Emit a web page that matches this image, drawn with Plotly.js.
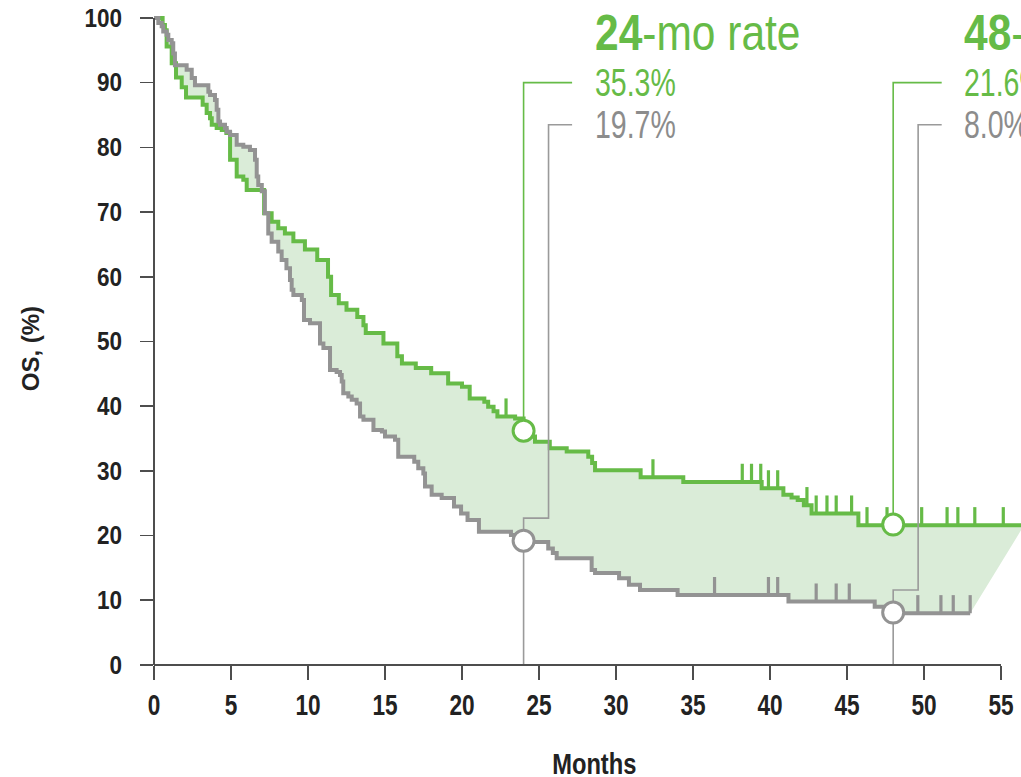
<!DOCTYPE html>
<html><head><meta charset="utf-8">
<script src="https://cdn.plot.ly/plotly-3.0.1.min.js"></script>
<style>html,body{margin:0;padding:0;background:#fff;} #chart{width:1021px;height:777px;}</style>
</head><body><div id="chart"></div>
<script>
// ---- data ----
const greenMonths = [0, 0.56, 0.71, 0.82, 1.15, 1.43, 1.80, 2.08, 3.16, 3.42, 3.64, 3.75, 4.07, 4.40, 4.70, 4.94, 5.37, 5.80, 6.02, 7.15, 7.64, 8.07, 8.50, 9.05, 9.80, 10.60, 11.30, 11.50, 12.00, 12.50, 13.20, 13.60, 13.75, 14.90, 15.80, 16.10, 17.00, 18.00, 19.10, 20.00, 20.50, 21.45, 21.70, 22.05, 22.30, 23.45, 24.00, 24.74, 25.70, 26.80, 28.20, 28.45, 28.64, 31.60, 34.37, 39.46, 40.87, 41.40, 41.80, 42.20, 42.70, 45.74, 56.50];
const greenOS = [100, 98.9, 98.1, 95.6, 93.0, 90.8, 89.3, 87.7, 86.6, 85.3, 84.5, 83.5, 83.0, 82.7, 82.2, 78.1, 75.5, 75.0, 73.4, 69.8, 68.5, 67.5, 66.7, 65.5, 64.2, 62.6, 60.0, 57.2, 55.9, 54.9, 53.8, 52.5, 51.3, 49.7, 47.7, 46.6, 45.9, 45.1, 43.5, 43.0, 41.2, 40.7, 39.9, 39.2, 38.4, 38.1, 35.3, 34.5, 33.5, 33.0, 32.2, 31.2, 30.1, 29.0, 28.3, 27.3, 26.3, 25.9, 25.5, 24.7, 23.4, 21.6, 21.6];

const greyMonths = [0, 0.28, 0.50, 0.60, 0.82, 0.93, 1.15, 1.25, 1.36, 2.12, 2.45, 2.66, 3.53, 3.64, 3.96, 4.07, 4.18, 4.29, 4.61, 4.72, 4.94, 5.37, 5.80, 6.23, 6.56, 6.67, 6.77, 7.00, 7.20, 7.42, 7.64, 8.07, 8.29, 8.60, 8.83, 8.94, 9.05, 9.60, 9.74, 10.13, 10.78, 11.00, 11.43, 11.86, 12.08, 12.19, 12.29, 12.62, 12.84, 13.16, 13.38, 13.60, 14.25, 14.80, 15.00, 15.65, 15.86, 16.90, 17.16, 17.49, 17.60, 18.03, 18.68, 19.48, 19.94, 20.36, 21.10, 23.18, 24.00, 25.60, 25.90, 26.15, 28.42, 28.64, 30.20, 30.84, 31.56, 34.00, 41.20, 46.80, 47.90, 53.00];
const greyOS = [100, 99.2, 98.7, 97.9, 97.4, 96.6, 96.1, 94.5, 92.7, 92.0, 90.7, 89.6, 88.6, 88.1, 87.3, 85.8, 84.0, 83.5, 83.0, 82.4, 81.9, 80.4, 80.1, 79.6, 78.1, 75.5, 74.2, 73.2, 69.8, 66.7, 65.4, 63.9, 62.6, 61.3, 59.5, 58.0, 57.2, 56.4, 53.3, 52.8, 49.7, 49.0, 45.6, 45.3, 44.8, 43.8, 42.0, 41.5, 41.0, 40.4, 38.4, 37.9, 36.3, 36.1, 35.3, 34.8, 32.2, 31.4, 30.4, 29.6, 27.6, 26.3, 25.8, 24.5, 23.4, 22.4, 20.6, 20.1, 19.0, 18.0, 17.3, 16.5, 14.7, 14.2, 13.4, 12.4, 11.6, 10.8, 9.8, 9.0, 8.0, 8.0];

const censorGreenMonths = [22.86, 32.4, 38.2, 38.8, 39.4, 39.9, 40.5, 42.4, 43.0, 43.7, 44.3, 45.3, 46.3, 47.6, 49.85, 51.5, 52.2, 53.3, 55.15];
const censorGreyMonths = [36.4, 39.9, 40.5, 43.0, 44.3, 45.15, 49.6, 51.1, 51.9, 53.0];

const rateMonths = [24, 48];
const markerGreenOS = [36.2, 21.7];
const markerGreyOS = [19.2, 8.1];
const rateGreenText = ["35.3%", "21.6%"];
const rateGreyText = ["19.7%", "8.0%"];

const xTicks = [0, 5, 10, 15, 20, 25, 30, 35, 40, 45, 50, 55];
const yTicks = [0, 10, 20, 30, 40, 50, 60, 70, 80, 90, 100];

// ---- styles ----
const GREEN = '#66bb47';
const GREY = '#939393';
const FILL = '#daecd8';
const AXIS = '#4d4d4d';
const INK = '#222222';
const SANS = '"Liberation Sans", Arial, sans-serif';
const CENSOR_H = 2.8;

function levelAt(ms, vs, t) {
  let v = vs[0];
  for (let i = 0; i < ms.length; i++) { if (ms[i] <= t + 1e-9) v = vs[i]; else break; }
  return v;
}

const traces = [];
traces.push({x: greenMonths, y: greenOS, mode: 'lines', line: {color: GREEN, width: 4, shape: 'hv'}, hoverinfo: 'skip', showlegend: false});
traces.push({x: greyMonths, y: greyOS, mode: 'lines', fill: 'tonexty', fillcolor: FILL, line: {color: GREY, width: 4, shape: 'hv'}, hoverinfo: 'skip', showlegend: false});

function censorTrace(ms, curveM, curveV, color) {
  return {
    x: ms, y: ms.map(t => levelAt(curveM, curveV, t)), mode: 'markers',
    marker: {size: 1, color: 'rgba(0,0,0,0)'},
    error_y: {type: 'data', symmetric: false, array: ms.map(() => CENSOR_H), arrayminus: ms.map(() => 0), color: color, thickness: 3.2, width: 0},
    hoverinfo: 'skip', showlegend: false
  };
}
traces.push(censorTrace(censorGreenMonths, greenMonths, greenOS, GREEN));
traces.push(censorTrace(censorGreyMonths, greyMonths, greyOS, GREY));

// leader lines (layout geometry)
const LBL_GREEN_Y = 90.0, LBL_GREY_Y = 83.5, TITLE_Y = 97.6;
const TEXT_DX = 4.5, LINE_END_DX = 3.15, JOG_DX = 1.62, JOG_DY = 3.5;
rateMonths.forEach((m, i) => {
  traces.push({x: [m, m, m + LINE_END_DX], y: [markerGreenOS[i], LBL_GREEN_Y, LBL_GREEN_Y], mode: 'lines', line: {color: GREEN, width: 1.6}, hoverinfo: 'skip', showlegend: false});
  const jy = markerGreyOS[i] + JOG_DY;
  traces.push({x: [m, m, m + JOG_DX, m + JOG_DX, m + LINE_END_DX], y: [0, jy, jy, LBL_GREY_Y, LBL_GREY_Y], mode: 'lines', line: {color: '#9a9a9a', width: 1.6}, hoverinfo: 'skip', showlegend: false});
});

// circles
const cx = [], cy = [], cc = [];
rateMonths.forEach((m, i) => { cx.push(m, m); cy.push(markerGreenOS[i], markerGreyOS[i]); cc.push(GREEN, GREY); });
traces.push({x: cx, y: cy, mode: 'markers', marker: {size: 21, color: '#ffffff', line: {color: cc, width: 3}}, hoverinfo: 'skip', showlegend: false, cliponaxis: false});

// annotations (+ horizontal condensing factor per text, to mimic the condensed typeface)
const annotations = [];
const condenseAnn = [];
rateMonths.forEach((m, i) => {
  annotations.push({x: m + TEXT_DX, y: TITLE_Y, xref: 'x', yref: 'y', xanchor: 'left', yanchor: 'middle', showarrow: false,
    text: '<b>' + m + '</b>-mo rate', font: {family: SANS, size: 50, color: GREEN}});
  condenseAnn.push(['left', 0.85]);
  annotations.push({x: m + TEXT_DX, y: LBL_GREEN_Y, xref: 'x', yref: 'y', xanchor: 'left', yanchor: 'middle', showarrow: false,
    text: rateGreenText[i], font: {family: SANS, size: 38, color: GREEN}});
  condenseAnn.push(['left', 0.75]);
  annotations.push({x: m + TEXT_DX, y: LBL_GREY_Y, xref: 'x', yref: 'y', xanchor: 'left', yanchor: 'middle', showarrow: false,
    text: rateGreyText[i], font: {family: SANS, size: 38, color: '#8c8c8c'}});
  condenseAnn.push(['left', 0.75]);
});
annotations.push({x: 28.6, y: -0.149, xref: 'x', yref: 'paper', xanchor: 'center', yanchor: 'middle', showarrow: false,
  text: '<b>Months</b>', font: {family: SANS, size: 30, color: INK}});
condenseAnn.push(['center', 0.79]);
annotations.push({x: -0.143, y: 48.8, xref: 'paper', yref: 'y', xanchor: 'center', yanchor: 'middle', showarrow: false, textangle: -90,
  text: '<b>OS, (%)</b>', font: {family: SANS, size: 24, color: INK}});
condenseAnn.push(['center', 1]);

const layout = {
  width: 1021, height: 777,
  margin: {l: 154, r: 0, t: 5, b: 112, pad: 0},
  paper_bgcolor: '#ffffff', plot_bgcolor: '#ffffff',
  showlegend: false,
  xaxis: {range: [0, 56.3], tickvals: xTicks, ticktext: xTicks.map(String), ticks: 'outside', ticklen: 14, tickwidth: 1.6, tickcolor: AXIS,
    showline: false, showgrid: false, zeroline: false, ticklabelstandoff: 0,
    tickfont: {family: SANS, size: 29, color: INK, weight: 'bold'}},
  yaxis: {range: [0, 102], tickvals: yTicks, ticktext: yTicks.map(String), ticks: 'outside', ticklen: 13, tickwidth: 1.6, tickcolor: AXIS,
    showline: false, showgrid: false, zeroline: false, ticklabelstandoff: 13,
    tickfont: {family: SANS, size: 25, color: INK, weight: 'bold'}},
  shapes: [
    {type: 'line', xref: 'x', yref: 'paper', x0: 0, x1: xTicks[xTicks.length - 1], y0: 0, y1: 0, line: {color: AXIS, width: 2}},
    {type: 'line', xref: 'paper', yref: 'y', x0: 0, x1: 0, y0: 0, y1: yTicks[yTicks.length - 1], line: {color: AXIS, width: 2}}
  ],
  annotations: annotations
};

function condenseText(el, s, mode) {
  if (s === 1) return;
  const bb = el.getBBox();
  let px = bb.x + bb.width / 2;
  if (mode === 'left') px = bb.x;
  else if (mode === 'right') px = bb.x + bb.width;
  const prev = el.getAttribute('transform') || '';
  el.setAttribute('transform', prev + ' translate(' + px + ',0) scale(' + s + ',1) translate(' + (-px) + ',0)');
}

Plotly.newPlot('chart', traces, layout, {staticPlot: true, displayModeBar: false}).then(gd => {
  gd.querySelectorAll('.xtick text').forEach(t => condenseText(t, 0.78, 'center'));
  gd.querySelectorAll('.ytick text').forEach(t => condenseText(t, 0.9, 'right'));
  gd.querySelectorAll('.annotation').forEach(g => {
    const idx = +g.getAttribute('data-index');
    const t = g.querySelector('.annotation-text');
    if (t && condenseAnn[idx]) condenseText(t, condenseAnn[idx][1], condenseAnn[idx][0]);
  });
});
</script>
</body></html>
